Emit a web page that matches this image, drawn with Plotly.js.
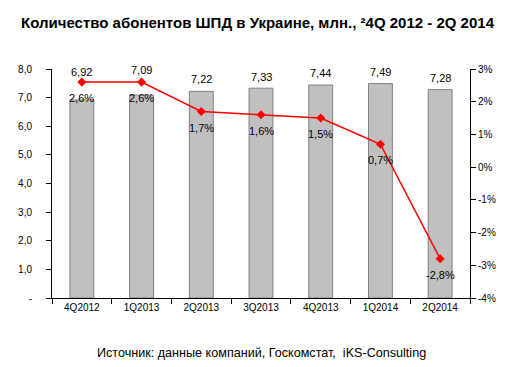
<!DOCTYPE html>
<html>
<head>
<meta charset="utf-8">
<script src="https://cdn.plot.ly/plotly-3.0.1.min.js"></script>
<style>html,body{margin:0;padding:0;background:#fff;}#chart{width:515px;height:367px;}</style>
</head>
<body>
<div id="chart"></div>
<script>
const categories = ["4Q2012","1Q2013","2Q2013","3Q2013","4Q2013","1Q2014","2Q2014"];
const subscribers = [6.92, 7.09, 7.22, 7.33, 7.44, 7.49, 7.28];
const growth = [2.6, 2.6, 1.7, 1.6, 1.5, 0.7, -2.8];
const leftTickVals = [0,1,2,3,4,5,6,7,8];
const leftTickText = ["-","1,0","2,0","3,0","4,0","5,0","6,0","7,0","8,0"];
const rightTickVals = [-4,-3,-2,-1,0,1,2,3];
const rightTickText = ["-4%","-3%","-2%","-1%","0%","1%","2%","3%"];

const FONT = "Liberation Sans, Arial, sans-serif";
const barLabelShift = [28, 25, 12, 11, 12, 12, 12];

const annotations = [];
subscribers.forEach((v, i) => {
  annotations.push({x: categories[i], y: v, xref: 'x', yref: 'y', text: v.toFixed(2).replace('.', ','),
    showarrow: false, yanchor: 'middle', yshift: barLabelShift[i], font: {family: FONT, size: 11, color: '#000'}});
});
growth.forEach((v, i) => {
  annotations.push({x: categories[i], y: v, xref: 'x', yref: 'y2', text: v.toFixed(1).replace('.', ',') + '%',
    showarrow: false, yanchor: 'middle', yshift: -16, font: {family: FONT, size: 11, color: '#000'}});
});
annotations.push({xref: 'paper', yref: 'paper', x: 0.5, y: 0, xanchor: 'center', yanchor: 'middle',
  yshift: -55, text: "Источник: данные компаний, Госкомстат,  iKS-Consulting", showarrow: false,
  font: {family: FONT, size: 12.6, color: '#000'}});

const data = [
  {type: 'bar', x: categories, y: subscribers, width: 0.4,
   marker: {color: '#c0c0c0', line: {color: '#808080', width: 1}}, hoverinfo: 'none'},
  {type: 'scatter', mode: 'lines+markers', x: categories, y: growth, yaxis: 'y2',
   line: {color: '#ff0000', width: 1.5}, marker: {symbol: 'diamond', size: 7, color: '#ff0000'}, hoverinfo: 'none'}
];

const layout = {
  width: 515, height: 367,
  margin: {l: 52, r: 45, t: 69, b: 69},
  paper_bgcolor: '#fff', plot_bgcolor: '#fff',
  showlegend: false,
  separators: ', ',
  title: {text: "<b>Количество абонентов ШПД в Украине, млн., ²4Q 2012 - 2Q 2014</b>",
    font: {family: FONT, size: 15, color: '#000'}, x: 0.5, xanchor: 'center', y: 0.937, yanchor: 'middle'},
  xaxis: {showline: true, linecolor: '#000', linewidth: 1, ticks: 'outside', tickson: 'boundaries',
    ticklen: 5, tickcolor: '#000', showgrid: false, zeroline: false,
    tickfont: {family: FONT, size: 10, color: '#000'}},
  yaxis: {range: [0, 8], showline: true, linecolor: '#000', linewidth: 1, ticks: 'outside', ticklen: 5,
    tickcolor: '#000', tickvals: leftTickVals, ticktext: leftTickText, showgrid: false, zeroline: false,
    tickfont: {family: FONT, size: 10, color: '#000'}, ticklabelstandoff: 12},
  yaxis2: {range: [-4, 3], overlaying: 'y', side: 'right', showline: true, linecolor: '#000', linewidth: 1,
    ticks: 'outside', ticklen: 5, tickcolor: '#000', tickvals: rightTickVals, ticktext: rightTickText,
    showgrid: false, zeroline: false, tickfont: {family: FONT, size: 10, color: '#000'}},
  annotations: annotations
};

Plotly.newPlot('chart', data, layout, {staticPlot: true, displayModeBar: false});
</script>
</body>
</html>
